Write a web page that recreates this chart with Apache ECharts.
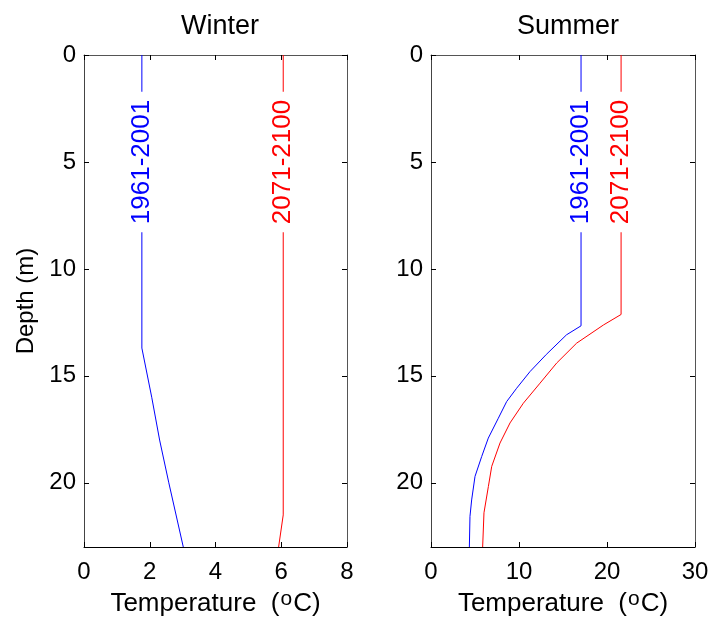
<!DOCTYPE html>
<html lang="en">
<head>
    <meta charset="utf-8">
    <title>Winter / Summer temperature profiles</title>
    <script src="https://cdn.jsdelivr.net/npm/echarts@6/dist/echarts.min.js"></script>
</head>
<body style="margin:0; background:#fff;">
<div id="main" style="width: 714px; height: 622px;"></div>

<script type="text/javascript">
    // depth (m) / temperature (degC)
    const winterDepthPast = [0, 13.7, 16, 18, 20, 23];
    const winterTempPast = [1.76, 1.76, 2.06, 2.30, 2.58, 3.02];
    const winterDepthFuture = [0, 21.5, 23];
    const winterTempFuture = [6.06, 6.06, 5.92];

    const summerDepthPast = [0, 12.66, 13.08, 14.0, 14.8, 15.58, 16.2, 16.98, 17.91, 18.77, 19.7, 20.8, 21.57, 23];
    const summerTempPast = [17.05, 17.05, 15.4, 13.1, 11.25, 9.73, 8.6, 7.65, 6.51, 5.76, 5.0, 4.62, 4.43, 4.36];
    const summerDepthFuture = [0, 12.13, 12.62, 13.47, 14.4, 15.34, 16.28, 17.2, 18.14, 19.23, 20.17, 21.4, 23];
    const summerTempFuture = [21.6, 21.6, 19.6, 16.55, 14.28, 12.39, 10.49, 8.98, 7.84, 6.9, 6.52, 6.02, 5.87];

    const periods = ['1961-2001', '2071-2100'];
    const panelTitles = ['Winter', 'Summer'];
    const labelDepth = 5;

    const font = 'Liberation Sans, Arial, Helvetica, sans-serif';

    function pairs(xs, ys) {
        return xs.map(function (x, i) { return [x, ys[i]]; });
    }

    function profile(name, temps, depths, color, idx) {
        return {
            name: name,
            type: 'line',
            xAxisIndex: idx * 2,
            yAxisIndex: idx * 2,
            data: pairs(temps, depths),
            symbol: 'none',
            silent: true,
            lineStyle: {color: color, width: 1},
            markPoint: {
                symbol: 'circle',
                symbolSize: 0,
                silent: true,
                data: [{coord: [temps[0], labelDepth]}],
                label: {
                    show: true,
                    position: 'inside',
                    formatter: name,
                    rotate: 90,
                    color: color,
                    fontFamily: font,
                    fontSize: 26,
                    backgroundColor: '#fff',
                    padding: [0, 8, 0, 8]
                }
            }
        };
    }

    function xAxes(idx, max, step) {
        return [{
            type: 'value', gridIndex: idx, position: 'bottom',
            min: 0, max: max, interval: step,
            splitLine: {show: false},
            axisLine: {onZero: false, lineStyle: {color: '#000', width: 1}},
            axisTick: {inside: true, length: 5, lineStyle: {color: '#000'}},
            axisLabel: {color: '#000', fontFamily: font, fontSize: 24, margin: 13},
            name: 'Temperature  ({sup|o}C)',
            nameLocation: 'middle',
            nameGap: 42,
            nameTextStyle: {
                color: '#000', fontFamily: font, fontSize: 26,
                rich: {sup: {fontSize: 21, verticalAlign: 'top', padding: [0, 1, 9, 1], fontFamily: font, color: '#000'}}
            }
        }, {
            type: 'value', gridIndex: idx, position: 'top',
            min: 0, max: max, interval: step,
            splitLine: {show: false},
            axisLine: {onZero: false, lineStyle: {color: '#555', width: 1}},
            axisTick: {inside: true, length: 5, lineStyle: {color: '#000'}},
            axisLabel: {show: false}
        }];
    }

    function yAxes(idx, withName) {
        return [{
            type: 'value', gridIndex: idx, position: 'left', inverse: true,
            min: 0, max: 23, interval: 5,
            splitLine: {show: false},
            axisLine: {onZero: false, lineStyle: {color: '#444', width: 1}},
            axisTick: {inside: true, length: 5, lineStyle: {color: '#000'}},
            axisLabel: {color: '#000', fontFamily: font, fontSize: 24, margin: 8, showMaxLabel: false},
            name: withName ? 'Depth (m)' : '',
            nameLocation: 'middle',
            nameGap: 46,
            nameRotate: 90,
            nameTextStyle: {color: '#000', fontFamily: font, fontSize: 24}
        }, {
            type: 'value', gridIndex: idx, position: 'right', inverse: true,
            min: 0, max: 23, interval: 5,
            splitLine: {show: false},
            axisLine: {onZero: false, lineStyle: {color: '#555', width: 1}},
            axisTick: {inside: true, length: 5, lineStyle: {color: '#000'}},
            axisLabel: {show: false}
        }];
    }

    const myChart = echarts.init(document.getElementById('main'), null, {renderer: 'canvas'});
    const option = {
        backgroundColor: '#fff',
        animation: false,
        title: [
            {text: panelTitles[0], left: 215, top: 8, textAlign: 'center',
             textStyle: {color: '#000', fontFamily: font, fontSize: 27, fontWeight: 'normal'}},
            {text: panelTitles[1], left: 563, top: 8, textAlign: 'center',
             textStyle: {color: '#000', fontFamily: font, fontSize: 27, fontWeight: 'normal'}}
        ],
        grid: [
            {left: 84, top: 55, width: 263, height: 493},
            {left: 431, top: 55, width: 264, height: 493}
        ],
        xAxis: xAxes(0, 8, 2).concat(xAxes(1, 30, 10)),
        yAxis: yAxes(0, true).concat(yAxes(1, false)),
        series: [
            profile(periods[0], winterTempPast, winterDepthPast, '#0000ff', 0),
            profile(periods[1], winterTempFuture, winterDepthFuture, '#ff0000', 0),
            profile(periods[0], summerTempPast, summerDepthPast, '#0000ff', 1),
            profile(periods[1], summerTempFuture, summerDepthFuture, '#ff0000', 1)
        ]
    };
    myChart.setOption(option);
</script>
</body>
</html>
